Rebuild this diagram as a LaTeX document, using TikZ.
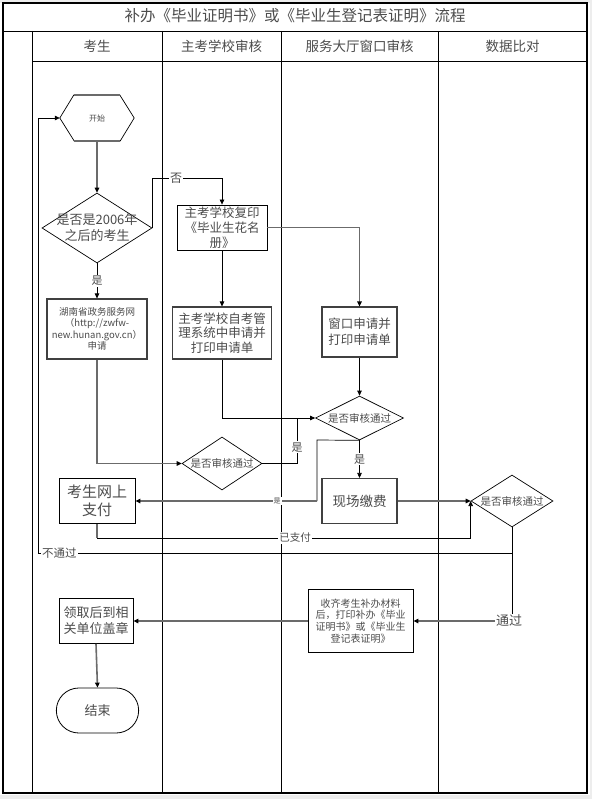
\documentclass[tikz,border=0pt]{standalone}
\usepackage{fontspec}
\setmainfont{Noto Sans CJK SC}
\usetikzlibrary{arrows.meta,shapes.geometric,shapes.misc,calc}
\begin{document}
\begin{tikzpicture}[x=1pt,y=-1pt,
  fz/.style 2 args={font=\fontsize{#1}{#2}\selectfont},
  txt/.style={text=black!70},
  box/.style={draw, line width=0.8pt, align=center, inner sep=0pt, txt},
  hbox/.style={box, draw=black!75, line width=1.1pt},
  dia/.style 2 args={diamond, draw, line width=0.7pt, minimum width=#1, minimum height=#2, inner sep=0pt},
  dtxt/.style={align=center, inner sep=0pt, txt},
  ln/.style={line width=0.7pt, black},
  gl/.style={line width=1.6pt, black!58},
  arr/.style={-{Triangle[length=5pt,width=4.5pt,color=black]}},
  lab/.style={fill=white, inner sep=1pt, txt, fz={11}{13}},
  lane/.style={line width=0.8pt, black}
]
\useasboundingbox (0,0) rectangle (592,799);
\fill[black!7] (0,0) rectangle (592,799);
\fill[white] (0,3) rectangle (590,795);
% frame and lanes
\draw[line width=1.2pt] (3,3) rectangle (587,793);
\draw[lane] (3,31) -- (587,31);
\draw[lane] (32,61) -- (587,61);
\draw[lane] (32,31) -- (32,793);
\draw[lane] (162,31) -- (162,793);
\draw[lane] (281,31) -- (281,793);
\draw[lane] (438,31) -- (438,793);
\node[txt, fz={15.5}{18}] (title) at (295,16) {补办《毕业证明书》或《毕业生登记表证明》流程};
\node[txt, fz={13.5}{16}] (h1) at (97,46) {考生};
\node[txt, fz={13.5}{16}] (h2) at (221.5,46) {主考学校审核};
\node[txt, fz={13.5}{16}] (h3) at (359.5,46) {服务大厅窗口审核};
\node[txt, fz={13.5}{16}] (h4) at (512.5,46) {数据比对};
% start hexagon
\node[minimum width=74pt, minimum height=46pt, inner sep=0pt, txt, fz={8}{10}] (start) at (97,118) {开始};
\draw[ln] (start.west) -- ++(14,-23) -- ++(46,0) -- (start.east) -- ++(-14,23) -- ++(-46,0) -- cycle;
\draw[gl] ($(start.west)+(14,-23)$) -- ++(46,0);
\draw[gl] ($(start.west)+(14,23)$) -- ++(46,0);
% diamonds
\node[dia={110pt}{70pt}] (d1) at (97,228) {};
\node[dtxt, fz={13}{16}] (d1t) at (d1) {是否是2006年\\之后的考生};
\node[dia={88pt}{44pt}] (d2) at (359.5,418) {};
\node[dtxt, fz={10.5}{12}] (d2t) at (d2) {是否审核通过};
\node[dia={80pt}{53pt}] (d3) at (222,463.5) {};
\node[dtxt, fz={10.5}{12}] (d3t) at (d3) {是否审核通过};
\node[dia={82pt}{52pt}] (d4) at (512,501) {};
\node[dtxt, fz={10.5}{12}] (d4t) at (d4) {是否审核通过};
% boxes
\node[box, minimum width=90pt, minimum height=45pt, fz={12.5}{15}] (b1) at (222,227.5) {主考学校复印\\《毕业生花名\\册》};
\node[hbox, minimum width=100pt, minimum height=60pt, fz={9.5}{11.3}] (b2) at (97,329) {湖南省政务服务网\\（http://zwfw-\\new.hunan.gov.cn）\\申请};
\node[hbox, minimum width=99pt, minimum height=52pt, fz={12.5}{14.5}] (b3) at (222,333) {主考学校自考管\\理系统中申请并\\打印申请单};
\node[hbox, minimum width=75pt, minimum height=50pt, fz={12.5}{16}] (b4) at (359.5,332) {窗口申请并\\打印申请单};
\node[hbox, minimum width=75pt, minimum height=45pt, fz={13.5}{16}] (b5) at (359.5,501) {现场缴费};
\node[box, minimum width=76pt, minimum height=45pt, fz={15}{18}] (b6) at (97,501) {考生网上\\支付};
\node[box, minimum width=105pt, minimum height=63pt, fz={10}{11.8}] (b7) at (360.5,621) {收齐考生补办材料\\后，打印补办《毕业\\证明书》或《毕业生\\登记表证明》};
\node[box, minimum width=74pt, minimum height=45pt, fz={13}{16}] (b8) at (96,621) {领取后到相\\关单位盖章};
\node[rounded rectangle, draw, line width=0.8pt, minimum width=89pt, minimum height=45pt, txt, fz={13}{16}] (end) at (97.5,710.5) {结束};
% junction coordinates
\coordinate (j1) at (297,418);
\coordinate (j2) at (317,440);
\coordinate (j3) at (317,501);
\coordinate (j4) at (97,538);
\coordinate (j6) at (512,553);
\coordinate (j7) at (38,553);
\coordinate (j8) at (512,621);
% connectors
\draw[gl,arr] (start.south) -- (d1.north);
\draw[ln,arr] (d1.east) -- ++(0,-50) -| node[lab, pos=0.17, fz={12}{14}] (lno) {否} (b1.north);
\draw[ln,arr] (d1.south) -- node[lab] (lyes1) {是} (b2.north);
\draw[gl,arr] (b1.east) -| (b4.north);
\draw[ln,arr] (b1.south) -- (b3.north);
\draw[ln,arr] (b3.south) |- (d2.west);
\draw[ln,arr] (b4.south) -- (d2.north);
\draw[gl,arr] (b2.south) |- (d3.west);
\draw[ln] (d3.east) -| node[lab, pos=0.68] (lyes2) {是} (j1);
\draw[ln,arr] (d2.south) -- node[lab] (lyes3) {是} (b5.north);
\draw[ln] (d2.south) -- (j2) -- (j3);
\draw[gl,arr] (j3) -- node[lab, pos=0.22, fz={7}{8}] (lyes4) {是} (b6.east);
\draw[gl,arr] (b5.east) -- (d4.west);
\draw[gl] (b6.south) -- (j4);
\draw[ln,arr] (j4) -| node[lab, pos=0.265, fz={10.5}{12}] (lpaid) {已支付} (d4.west);
\draw[ln,arr] (d4.south) -- (j6) -- node[lab, pos=0.955, fz={11.5}{13}] (lfail) {不通过} (j7) |- (start.west);
\draw[ln] (j6) -- (j8);
\draw[gl,arr] (j8) -- (b7.east);
\node[lab, fz={13}{15}, inner sep=1.5pt] (lpass) at (509,621) {通过};
\draw[gl,arr] (b7.west) -- (b8.east);
\draw[gl,arr] (b8.south) -- (end.north);
\end{tikzpicture}
\end{document}
